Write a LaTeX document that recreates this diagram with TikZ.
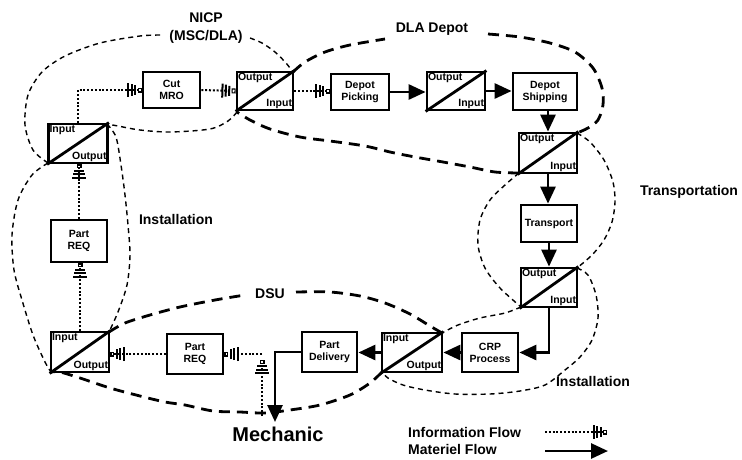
\documentclass[tikz,border=0pt]{standalone}
\usepackage{fontspec}
\setmainfont{Liberation Sans}
\usetikzlibrary{arrows.meta,calc}
\tikzset{
  box/.style={draw, line width=2.8pt, inner sep=0pt, font=\bfseries\fontsize{10.5}{12}\selectfont, align=center},
  boxtxt/.style={font=\bfseries\fontsize{10.5}{12}\selectfont, inner sep=2.2pt},
  diag/.style={line width=2.8pt},
  lbl/.style={font=\bfseries\fontsize{14}{16}\selectfont},
  mat/.style={line width=2.8pt, -{Triangle[length=17pt,width=15pt]}},
  info/.style={line width=2pt, dash pattern=on 2pt off 1.8pt,
    -{Bar[width=14pt,line width=2pt,sep=1.4pt]Bar[width=12pt,line width=2pt,sep=1.4pt]Bar[width=10pt,line width=2pt,sep=1.4pt]Square[open,length=4pt,width=5pt,line width=1.1pt]}},
  fine/.style={line width=1.4pt, dash pattern=on 5pt off 4pt},
  bigdash/.style={line width=2.8pt, dash pattern=on 11pt off 7pt}
}
\newcommand{\splitbox}[7]{%
  \node[box, minimum width=#4pt, minimum height=#5pt] (#1) at (#2,#3) {};
  \draw[diag] (#1.south west) -- (#1.north east);
  \node[boxtxt, anchor=north west] (#1t) at (#1.north west) {#6};
  \node[boxtxt, anchor=south east] (#1b) at (#1.south east) {#7};}
\begin{document}
\begin{tikzpicture}[x=1pt,y=-1pt]
\useasboundingbox (0,0) rectangle (742,459);
% boxes
\splitbox{ulio}{78}{143.5}{59}{39}{Input}{Output}
\node[box, minimum width=57pt, minimum height=36pt] (cut) at (171.5,90) {Cut\\MRO};
\splitbox{oi1}{265}{91}{56}{38}{Output}{Input}
\node[box, minimum width=58pt, minimum height=36pt] (pick) at (360,92) {Depot\\Picking};
\splitbox{oi2}{456}{91}{58}{38}{Output}{Input}
\node[box, minimum width=64pt, minimum height=37pt] (ship) at (545,91.5) {Depot\\Shipping};
\splitbox{oi3}{548}{153}{58}{40}{Output}{Input}
\node[box, minimum width=56pt, minimum height=37pt] (trans) at (549,223.5) {Transport};
\splitbox{oi4}{549}{287.5}{56}{39}{Output}{Input}
\node[box, minimum width=56pt, minimum height=39pt] (crp) at (490,352.5) {CRP\\Process};
\splitbox{rio}{412}{352.5}{60}{39}{Input}{Output}
\node[box, minimum width=55pt, minimum height=40pt] (pdel) at (329.5,352) {Part\\Delivery};
\node[box, minimum width=56pt, minimum height=40pt] (preq2) at (195,354) {Part\\REQ};
\splitbox{llio}{80}{352}{58}{40}{Input}{Output}
\node[box, minimum width=56pt, minimum height=42pt] (preq1) at (79,241) {Part\\REQ};
% labels
\node[lbl] (nicp) at (206,18) {NICP};
\node[lbl] (msc) at (206,37) {(MSC/DLA)};
\node[lbl] (dla) at (432,29) {DLA Depot};
\node[lbl] (transp) at (689,192) {Transportation};
\node[lbl] (inst1) at (176,219) {Installation};
\node[lbl] (inst2) at (593,381) {Installation};
\node[lbl] (dsu) at (270,294) {DSU};
\node[font=\bfseries\fontsize{20}{22}\selectfont] (mech) at (278,434) {Mechanic};
\node[lbl, anchor=west, inner sep=0pt] (lginfo) at (408,432) {Information Flow};
\node[lbl, anchor=west, inner sep=0pt] (lgmat) at (408,449) {Materiel Flow};
% region boundaries
\draw[fine] plot[smooth] coordinates {(48,163) (33,150) (25,125) (28,95) (42,72) (65,56) (100,43) (140,36) (162,35)};
\draw[fine] plot[smooth] coordinates {(250,38) (262,43) (275,52) (286,63) (293,72)};
\draw[fine] plot[smooth] coordinates {(237,112) (228,121) (210,129) (170,132) (140,130) (118,126) (107,124)};
\draw[fine] plot[smooth] coordinates {(48,163) (32,175) (18,200) (12,235) (14,270) (22,300) (33,335) (45,362) (51,372)};
\draw[fine] plot[smooth] coordinates {(107,124) (116,137) (121,165) (125,195) (128,225) (130,255) (127,285) (118,312) (109,332)};
\draw[bigdash] plot[smooth] coordinates {(293,72) (305,62) (325,52) (350,45) (385,39)};
\draw[bigdash] plot[smooth] coordinates {(488,34) (520,37) (550,43) (575,52) (593,68) (602,88) (603,105) (598,120) (588,128) (577,133)};
\draw[bigdash] plot[smooth] coordinates {(519,173) (495,172) (470,167) (443,162) (415,157) (390,152) (365,146) (330,141) (300,137) (270,129) (250,120) (237,112)};
\draw[fine] plot[smooth] coordinates {(577,133) (590,142) (604,160) (613,182) (615,202) (612,222) (604,240) (592,255) (577,268)};
\draw[fine] plot[smooth] coordinates {(519,173) (505,185) (490,200) (480,220) (478,245) (485,268) (500,288) (521,307)};
\draw[fine] plot[smooth] coordinates {(577,268) (588,275) (596,295) (598,318) (592,340) (580,357) (565,370) (545,385) (520,391) (490,394) (455,394) (425,390) (403,385) (388,378) (382,372)};
\draw[fine] plot[smooth] coordinates {(521,307) (505,313) (480,318) (458,325) (442,333)};
\draw[bigdash] plot[smooth] coordinates {(109,332) (125,323) (150,315) (180,307) (215,300) (245,295)};
\draw[bigdash] plot[smooth] coordinates {(296,292) (330,292) (360,296) (385,303) (410,314) (430,326) (442,333)};
\draw[bigdash] plot[smooth] coordinates {(382,372) (370,383) (350,395) (320,405) (290,410) (265,413) (240,412) (213,411) (185,405) (165,402) (140,396) (110,388) (80,378) (60,372) (51,372)};
% information flow
\draw[info] (ulio.north) |- (cut.west);
\draw[info] (cut.east) -- (oi1.west);
\draw[info] (oi1.east) -- (oi1.east -| pick.west);
\draw[info] (preq1.north) -- (preq1.north |- ulio.south);
\draw[info] (llio.north) -- (llio.north |- preq1.south);
\draw[info] (preq2.west) -- (preq2.west -| llio.east);
\coordinate (mi) at (262,416);
\coordinate (mc) at (262,360);
\coordinate (cor) at (262,354);
\draw[info] (mi) -- (mc);
\draw[info] (cor) -- (preq2.east);
% materiel flow
\draw[mat] (pick.east) -- (pick.east -| oi2.west);
\draw[mat] (oi2.east) -- (oi2.east -| ship.west);
\draw[mat] (oi3.north |- ship.south) -- (oi3.north);
\draw[mat] (oi3.south) -- (oi3.south |- trans.north);
\draw[mat] (trans.south) -- (trans.south |- oi4.north);
\draw[mat] (oi4.south) |- (crp.east);
\draw[mat] (crp.west) -- (crp.west -| rio.east);
\draw[mat] (rio.west) -- (rio.west -| pdel.east);
\coordinate (mtip) at (275,422);
\draw[mat] (pdel.west) -| (mtip);
% legend
\coordinate (li1) at (545,432);
\coordinate (li2) at (607,432);
\coordinate (lm1) at (545,451);
\coordinate (lm2) at (608,451);
\draw[info] (li1) -- (li2);
\draw[mat] (lm1) -- (lm2);
\end{tikzpicture}
\end{document}
